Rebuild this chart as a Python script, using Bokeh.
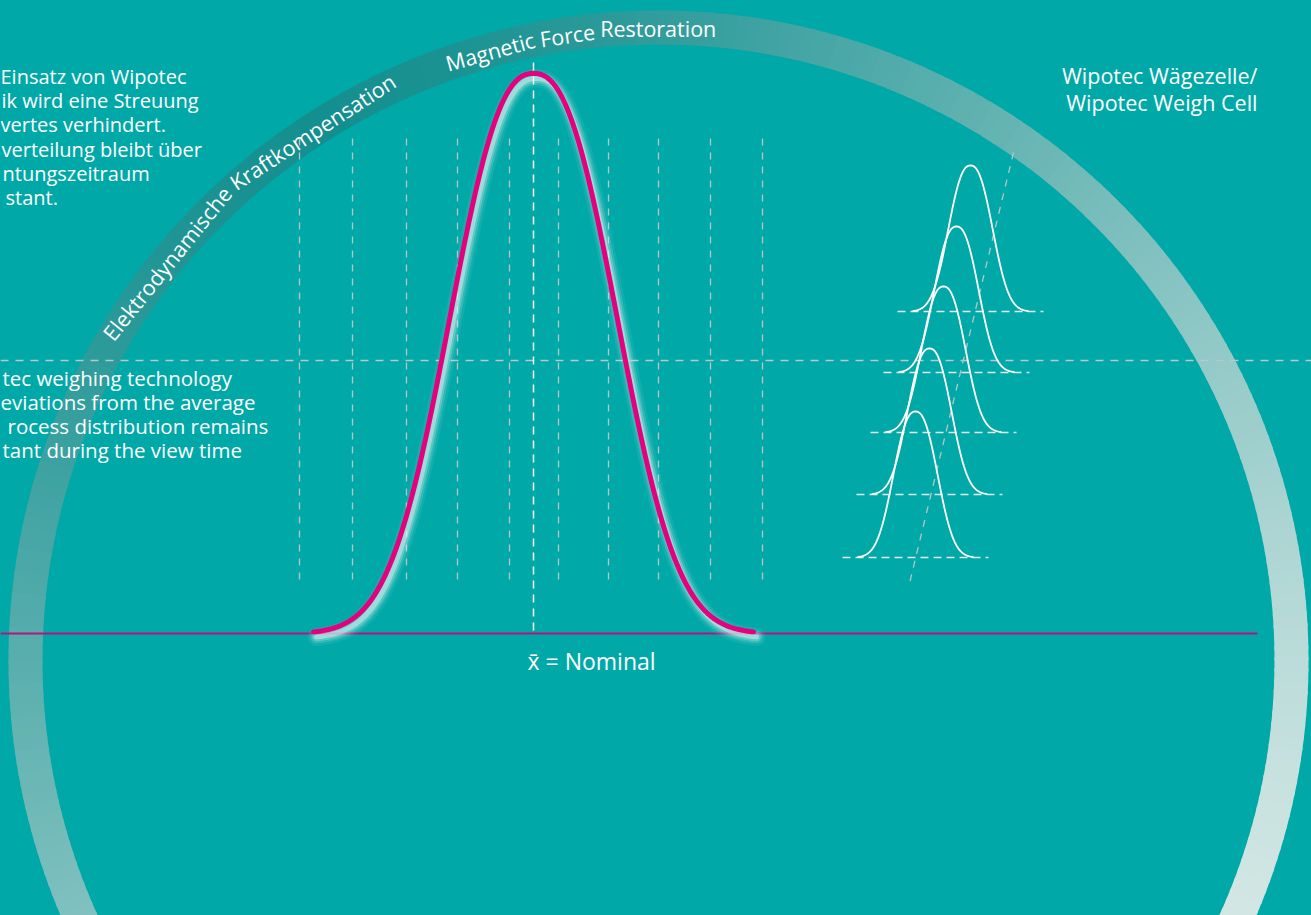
import numpy as np
from bokeh.plotting import figure
from bokeh.models import ColumnDataSource, Range1d, GlobalInlineStyleSheet
from bokeh.core.properties import value
from bokeh.embed import file_html
from bokeh.resources import INLINE

W, H = 1311, 915
BG = "#00a9a8"
FONT = value("Open Sans")

# ---------------- data (canvas units; vertical values measured from the top) -------------
nominal_x = 533          # mean of the process distribution (x-bar = nominal)
main_spread = 105.5      # scale of the main distribution
main_shape = 2.4         # shape of the (slightly flat-topped) bell
main_halfspan = 220
main_base = 633
main_height = 560

grid_x = [299, 352, 406, 457, 509, 558, 608, 658, 710, 762]   # dashed class borders
grid_top, grid_bottom = 138, 585
mid_level = 360

cell_means = [970, 956, 943, 929, 915]      # drifting weigh-cell distributions
cell_bases = [311, 372, 432, 494, 557]
cell_height = 146
cell_spread = 28
cell_halfspan = 58
cell_dash_half = 73
drift_x = [1013, 908]
drift_y = [152, 587]

ring_center = (658, 660)
ring_inner, ring_outer = 616, 650

text_de = ["Einsatz von Wipotec", "ik wird eine Streuung", "vertes verhindert.",
           "verteilung bleibt über", "ntungszeitraum", "stant."]
text_de_x = [0, 1, 0, 1, 2, 5]
text_de_y = [76, 100, 124, 149, 173, 197]
text_en = ["tec weighing technology", "eviations from the average",
           "rocess distribution remains", "tant during the view time"]
text_en_x = [2, 0, 7, 2]
text_en_y = [377, 401, 425, 449]
text_cell = ["Wipotec Wägezelle/", "Wipotec Weigh Cell"]
text_cell_y = [75, 102]
arc_labels = ["Elektrodynamische Kraftkompensation", "Magnetic Force Restoration"]
arc_start_deg = [149.7, 109.6]
nominal_label = "x\u0304 = Nominal"
nominal_label_y = 660


def Y(v):
    return H - np.asarray(v, dtype=float)


def bell(mean, spread, shape, half, base, height, n=240):
    xs = np.linspace(mean - half, mean + half, n)
    ys = base - height * np.exp(-np.abs((xs - mean) / spread) ** shape)
    return xs, Y(ys)


p = figure(width=W, height=H, x_range=Range1d(0, W), y_range=Range1d(0, H),
           output_backend="svg", toolbar_location=None, min_border=0,
           x_axis_location=None, y_axis_location=None,
           background_fill_color=BG, border_fill_color=BG, outline_line_color=None)
p.grid.visible = False
p.stylesheets = [GlobalInlineStyleSheet(
    css=f"html,body{{margin:0;padding:0;overflow:hidden;background:{BG};}}")]

# ---------------- ring with gradient ----------------
cx, cy = ring_center[0], H - ring_center[1]
step = 1.0
th = np.arange(0, 360, step)
v = (1 - np.cos(np.radians(th + step / 2 - 122))) / 2
f = v ** 0.75
dark = np.array([20, 143, 143])
light = np.array([224, 237, 234])
cols = ["#%02x%02x%02x" % tuple(int(round(c)) for c in dark + fi * (light - dark)) for fi in f]
ring = ColumnDataSource(dict(s=np.radians(th), e=np.radians(th + step * 1.3), c=cols))
p.annular_wedge(x=cx, y=cy, inner_radius=ring_inner, outer_radius=ring_outer,
                start_angle="s", end_angle="e", fill_color="c", line_color=None, source=ring)

# ---------------- curved labels on the ring ----------------
cw = {'a': .556, 'b': .613, 'c': .476, 'd': .613, 'e': .561, 'f': .336, 'g': .549, 'h': .614,
      'i': .253, 'k': .531, 'l': .253, 'm': .935, 'n': .614, 'o': .604, 'p': .613, 'r': .411,
      's': .477, 't': .351, 'u': .614, 'y': .502, 'z': .464, 'E': .543, 'F': .524, 'K': .6,
      'M': .897, 'R': .601, ' ': .26}
k_em = 21.5
r_text = 632
ax, ay, at, aa = [], [], [], []
for label, t0 in zip(arc_labels, arc_start_deg):
    pos = 0.0
    for word in label.split(" "):
        wl = sum(cw.get(ch, .55) for ch in word) * k_em
        c = pos + wl / 2
        theta = np.radians(t0) - c / r_text
        ax.append(cx + r_text * np.cos(theta))
        ay.append(cy + r_text * np.sin(theta))
        at.append(word)
        aa.append(theta - np.pi / 2)
        pos += wl + cw[' '] * k_em
p.text(x=ax, y=ay, text=at, angle=aa, text_align="center", text_baseline="middle",
       text_font=FONT, text_font_size="21.5px", text_color="white")

# ---------------- dashed helper lines ----------------
p.segment(x0=grid_x, y0=[Y(grid_top)] * len(grid_x), x1=grid_x, y1=[Y(grid_bottom)] * len(grid_x),
          line_color="#b6c6c6", line_width=1.3, line_dash="7 7")
p.segment(x0=[0], y0=[Y(mid_level)], x1=[W], y1=[Y(mid_level)],
          line_color="#b9c8c8", line_width=1.5, line_dash="8 7")
p.segment(x0=[drift_x[0]], y0=[Y(drift_y[0])], x1=[drift_x[1]], y1=[Y(drift_y[1])],
          line_color="#b6c6c6", line_width=1.3, line_dash="7 7")
p.segment(x0=[m - cell_dash_half for m in cell_means], y0=list(Y(cell_bases)),
          x1=[m + cell_dash_half for m in cell_means], y1=list(Y(cell_bases)),
          line_color="#e2eaea", line_width=1.5, line_dash="8 5")

# magenta base line
p.segment(x0=[0], y0=[Y(main_base)], x1=[1257], y1=[Y(main_base)],
          line_color="#b8147e", line_width=2)

# nominal marker
p.segment(x0=[nominal_x], y0=[Y(62)], x1=[nominal_x], y1=[Y(main_base)],
          line_color="white", line_width=1.5, line_dash="8 6")

# ---------------- main distribution with glow ----------------
mx, my = bell(nominal_x, main_spread, main_shape, main_halfspan, main_base, main_height)
for wdt, alp in [(18, 0.08), (13, 0.15), (9, 0.25), (5, 0.45)]:
    p.line(mx + 3, my - 5, line_color="#e6f7f5", line_width=wdt, line_alpha=alp, line_cap="round")
p.line(mx, my, line_color="#e5007e", line_width=5, line_cap="round", line_join="round")

# ---------------- weigh cell distributions ----------------
for m, b in zip(cell_means, cell_bases):
    sx, sy = bell(m, cell_spread, main_shape, cell_halfspan, b, cell_height, n=120)
    p.line(sx, sy, line_color="white", line_width=1.8)

# ---------------- texts ----------------
p.text(x=text_de_x, y=list(Y(text_de_y)), text=text_de, text_font=FONT, text_font_size="20px",
       text_color="white", text_align="left", text_baseline="alphabetic")
p.text(x=text_en_x, y=list(Y(text_en_y)), text=text_en, text_font=FONT, text_font_size="20.5px",
       text_color="white", text_align="left", text_baseline="alphabetic")
p.text(x=[1257, 1257], y=list(Y(text_cell_y)), text=text_cell, text_font=FONT,
       text_font_size="21.5px", text_color="white", text_align="right", text_baseline="alphabetic")
p.text(x=[527], y=list(Y([nominal_label_y])), text=[nominal_label], text_font=FONT,
       text_font_size="23px", text_color="white", text_align="left", text_baseline="alphabetic")

open("out.html", "w").write(file_html(p, INLINE))
